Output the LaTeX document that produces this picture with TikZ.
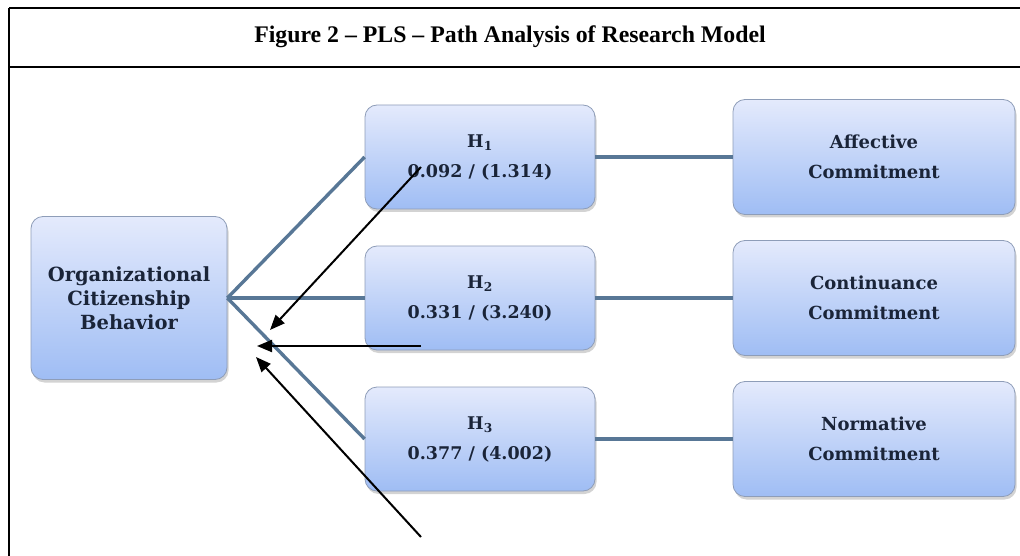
\documentclass[tikz,border=0pt]{standalone}
\usepackage{fontspec}
\setmainfont{Liberation Serif}
\newfontfamily\boxfont{DejaVu Serif}
\usetikzlibrary{arrows.meta,shadows}
\definecolor{boxtop}{HTML}{E4EAFC}
\definecolor{boxbot}{HTML}{9FBDF4}
\definecolor{boxline}{HTML}{8E9DB8}
\definecolor{conn}{HTML}{587796}
\definecolor{txt}{HTML}{1A2438}
\tikzset{
  frameline/.style={line width=1.4pt,black},
  rbox/.style={rounded corners=12pt,draw=boxline,line width=0.8pt,
    top color=boxtop,bottom color=boxbot,
    drop shadow={opacity=0.35,shadow xshift=1.5pt,shadow yshift=-3pt},
    text=txt,align=center,font=\boxfont\bfseries\fontsize{18}{30}\selectfont,
    inner sep=0pt},
  ocbbox/.style={rbox,minimum width=196pt,minimum height=163pt,
    font=\boxfont\bfseries\fontsize{19.5}{24}\selectfont},
  hbox/.style={rbox,minimum width=230pt,minimum height=104pt,
    font=\boxfont\bfseries\fontsize{17.5}{30}\selectfont},
  cbox/.style={rbox,minimum width=282pt,minimum height=115pt},
  conline/.style={draw=conn,line width=3.4pt},
  pointer/.style={black,line width=2pt,-{Triangle[length=15pt,width=12pt]}}
}
\begin{document}
\begin{tikzpicture}[x=1pt,y=-1pt]
\useasboundingbox (0,0) rectangle (1020,556);
% frame
\draw[frameline] (9,8) -- (1020,8);
\draw[frameline] (9,67) -- (1020,67);
\draw[frameline] (9,8) -- (9,556);
\node[font=\bfseries\fontsize{23.8}{26}\selectfont] (title) at (510,37)
  {Figure 2 -- PLS -- Path Analysis of Research Model};
% boxes
\node[ocbbox] (ocb) at (129,298) {Organizational\\Citizenship\\Behavior};
\node[hbox] (h1) at (480,157) {H\textsubscript{1}\\0.092 / (1.314)};
\node[hbox] (h2) at (480,298) {H\textsubscript{2}\\0.331 / (3.240)};
\node[hbox] (h3) at (480,439) {H\textsubscript{3}\\0.377 / (4.002)};
\node[cbox] (ac) at (874,157) {Affective\\Commitment};
\node[cbox] (cc) at (874,298) {Continuance\\Commitment};
\node[cbox] (nc) at (874,439) {Normative\\Commitment};
% connectors
\draw[conline] (ocb.east) -- (h1.west);
\draw[conline] (ocb.east) -- (h2.west);
\draw[conline] (ocb.east) -- (h3.west);
\draw[conline] (h1.east) -- (ac.west);
\draw[conline] (h2.east) -- (cc.west);
\draw[conline] (h3.east) -- (nc.west);
% pointers
\coordinate (p1s) at (421,167);
\coordinate (p1e) at (270,330);
\coordinate (p2s) at (421,346);
\coordinate (p2e) at (257,346);
\coordinate (p3s) at (421,537);
\coordinate (p3e) at (256,357);
\draw[pointer] (p1s) -- (p1e);
\draw[pointer] (p2s) -- (p2e);
\draw[pointer] (p3s) -- (p3e);
\end{tikzpicture}
\end{document}
